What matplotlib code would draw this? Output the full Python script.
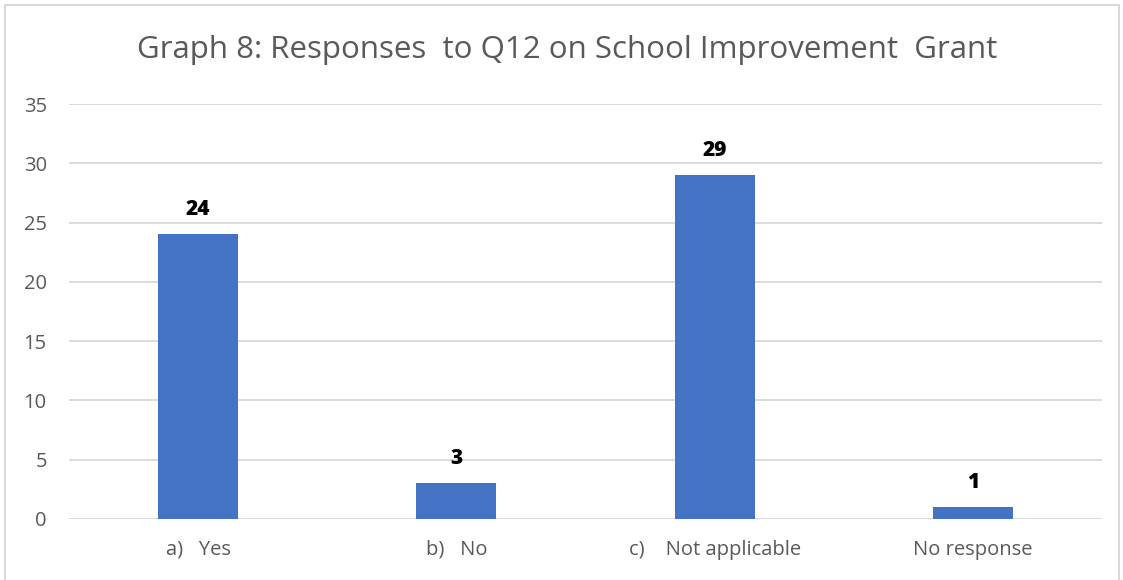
import matplotlib.pyplot as plt
from matplotlib.patches import Rectangle

# данные графика
categories = ['a)   Yes', 'b)   No', 'c)    Not applicable', 'No response']
responses = [24, 3, 29, 1]
y_ticks = [0, 5, 10, 15, 20, 25, 30, 35]

plt.rcParams['font.family'] = ['Open Sans', 'DejaVu Sans']

W, H = 1123, 580
fig = plt.figure(figsize=(W / 100, H / 100), dpi=100)

# рамка вокруг диаграммы
fig.patches.append(Rectangle((5 / W, -0.05), (1119 - 5) / W, 1.05 - 5 / H,
                             transform=fig.transFigure, fill=False,
                             edgecolor='#d9d9d9', linewidth=1.5))

ax = fig.add_axes([69 / W, 1 - 519 / H, (1102 - 69) / W, (519 - 104) / H])
x = range(len(categories))
bars = ax.bar(x, responses, width=0.31, color='#4472C4', zorder=3)

ax.set_xlim(-0.5, len(categories) - 0.5)
ax.set_ylim(0, 35)
ax.set_yticks(y_ticks)
ax.set_xticks(list(x))
ax.set_xticklabels(categories)
ax.grid(axis='y', color='#d9d9d9', linewidth=1.3, zorder=0)
for s in ax.spines.values():
    s.set_visible(False)
ax.tick_params(length=0, labelsize=14.5, labelcolor='#595959')
ax.tick_params(axis='y', pad=16)
ax.tick_params(axis='x', pad=15)

# подписи значений
for b, v in zip(bars, responses):
    ax.text(b.get_x() + b.get_width() / 2, v + 2.1, str(v), ha='center', va='center',
            fontsize=15, fontweight='heavy', color='black')

fig.text(0.505, 1 - 50 / H, 'Graph 8: Responses  to Q12 on School Improvement  Grant',
         ha='center', va='center', fontsize=22.5, color='#595959')

fig.savefig('out.png', dpi=100)
